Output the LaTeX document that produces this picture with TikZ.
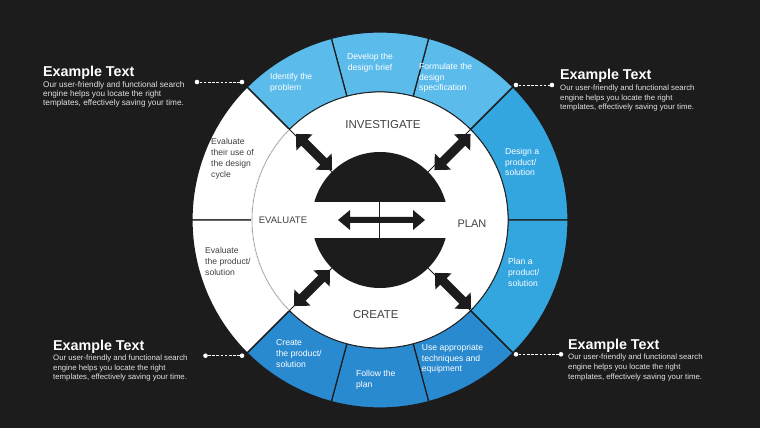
\documentclass[tikz,border=0pt]{standalone}
\usepackage{fontspec}
\setmainfont{Liberation Sans}
\definecolor{bgc}{HTML}{1C1C1C}
\definecolor{blueA}{HTML}{5BBCEC}
\definecolor{blueB}{HTML}{33A6E0}
\definecolor{blueC}{HTML}{2A8AD0}
\definecolor{txtgray}{HTML}{404040}
\definecolor{bodygray}{HTML}{E2E2E2}
\newcommand\ringseg[3]{%
  \filldraw[fill=#3, draw=bgc, line width=1.2pt] (#1:128) -- (#1:188)
    arc[start angle=#1, end angle=#2, radius=188] -- (#2:128)
    arc[start angle=#2, end angle=#1, radius=128] -- cycle;}
\newcommand\myDblArrow[5]{% half-length, head length, head half-width, shaft half-width, colour
  \fill[#5] (-#1,0) -- (-#1+#2,#3) -- (-#1+#2,#4) -- (#1-#2,#4) -- (#1-#2,#3) -- (#1,0)
    -- (#1-#2,-#3) -- (#1-#2,-#4) -- (-#1+#2,-#4) -- (-#1+#2,-#3) -- cycle;}
\tikzset{
  segtxt/.style={inner sep=0, align=left, font=\fontsize{8.6}{10.7}\selectfont},
  segw/.style={segtxt, text=white},
  segg/.style={segtxt, text=txtgray},
  phase/.style={inner sep=0, text=txtgray},
  title/.style={inner sep=0, anchor=base west, text=white, font=\fontsize{14.3}{16}\selectfont\bfseries},
  body/.style={inner sep=0, anchor=base west, align=left, text=bodygray},
  dot/.style={circle, fill=white, minimum size=4.6pt, inner sep=0},
  lead/.style={white, dashed, dash pattern=on 2.6pt off 1.6pt, line width=0.9pt},
  divider/.style={bgc, line width=1pt}
}
\begin{document}
\begin{tikzpicture}[x=1pt,y=1pt]
\fill[bgc] (0,0) rectangle (760,428);
\useasboundingbox (0,0) rectangle (760,428);
\coordinate (C) at (380,208);
\begin{scope}[shift={(380,208)}]
  % ring segments
  \ringseg{45}{75}{blueA}
  \ringseg{75}{105}{blueA}
  \ringseg{105}{135}{blueA}
  \ringseg{0}{45}{blueB}
  \ringseg{-45}{0}{blueB}
  \ringseg{-75}{-45}{blueC}
  \ringseg{-105}{-75}{blueC}
  \ringseg{-135}{-105}{blueC}
  \ringseg{135}{180}{white}
  \ringseg{180}{225}{white}
  % inner white disk
  \filldraw[fill=white, draw=bgc, line width=0.8pt] (0,0) circle (128);
  \draw[white, line width=2pt] (135:128) arc[start angle=135, end angle=225, radius=128];
  \draw[gray!80, line width=0.6pt] (135:128) arc[start angle=135, end angle=225, radius=128];
  % diagonal dividers
  \foreach \a in {45,135,225,315} \draw[divider] (\a:68) -- (\a:188);
  % black disk with white band
  \fill[bgc] (0,0) circle (68);
  \fill[white] (-70,-18) rectangle (70,18);
  \draw[bgc, line width=1pt] (-1,18) -- (-1,-18);
  \begin{scope}[shift={(1.5,0)}]\myDblArrow{43.5}{12}{10}{3}{bgc}\end{scope}
  % diagonal arrows
  \begin{scope}[shift={(-66,68)}, rotate=135]\myDblArrow{25.5}{12}{11.5}{4.5}{bgc}\end{scope}
  \begin{scope}[shift={(72.5,68)}, rotate=45]\myDblArrow{25.5}{12}{11.5}{4.5}{bgc}\end{scope}
  \begin{scope}[shift={(-68,-68)}, rotate=45]\myDblArrow{25.5}{12}{11.5}{4.5}{bgc}\end{scope}
  \begin{scope}[shift={(73,-71)}, rotate=135]\myDblArrow{25.5}{12}{11.5}{4.5}{bgc}\end{scope}
\end{scope}
% phase labels
\node[phase, anchor=base, font=\fontsize{11.5}{13}\selectfont] (inv) at (383,299.7) {INVESTIGATE};
\node[phase, anchor=base, font=\fontsize{9.5}{11}\selectfont] (eva) at (283,204.7) {EVALUATE};
\node[phase, anchor=base, font=\fontsize{11}{13}\selectfont] (pla) at (472,200.7) {PLAN};
\node[phase, anchor=base, font=\fontsize{11.4}{13}\selectfont] (cre) at (375.7,109) {CREATE};
% segment texts (anchor at last line's baseline)
\node[segw, anchor=base west] (s1) at (270,337.3) {Identify the\\problem};
\node[segw, anchor=base, align=center] (s2) at (370,357.3) {Develop the\\design brief};
\node[segw, anchor=base west] (s3) at (419,337.1) {Formulate the\\design\\specification};
\node[segw, anchor=base west] (s4) at (505,252.1) {Design a\\product/\\solution};
\node[segw, anchor=base west] (s5) at (508,141.6) {Plan a\\product/\\solution};
\node[segw, anchor=base west] (s6) at (421.7,56.1) {Use appropriate\\techniques and\\equipment};
\node[segw, anchor=base west] (s7) at (356,40.8) {Follow the\\plan};
\node[segw, anchor=base west] (s8) at (276,60.6) {Create\\the product/\\solution};
\node[segg, anchor=base west] (s9) at (205,152.6) {Evaluate\\the product/\\solution};
\node[segg, anchor=base west] (s10) at (211,250.9) {Evaluate\\their use of\\the design\\cycle};
% callouts
\node[title] (t1) at (43,351.3) {Example Text};
\node[body, font=\fontsize{8.2}{9}\selectfont] (b1) at (43,322.3) {Our user-friendly and functional search\\engine helps you locate the right\\templates, effectively saving your time.};
\node[title] (t2) at (560,348) {Example Text};
\node[body, font=\fontsize{7.8}{9.5}\selectfont] (b2) at (560,318) {Our user-friendly and functional search\\engine helps you locate the right\\templates, effectively saving your time.};
\node[title] (t3) at (53,77) {Example Text};
\node[body, font=\fontsize{7.8}{9.5}\selectfont] (b3) at (53,48) {Our user-friendly and functional search\\engine helps you locate the right\\templates, effectively saving your time.};
\node[title] (t4) at (568,78) {Example Text};
\node[body, font=\fontsize{7.8}{9.6}\selectfont] (b4) at (568,48.8) {Our user-friendly and functional search\\engine helps you locate the right\\templates, effectively saving your time.};
\node[dot] (d1a) at (197,346) {};
\node[dot] (d1b) at (242,346) {};
\node[dot] (d2a) at (516,343) {};
\node[dot] (d2b) at (552,343) {};
\node[dot] (d3a) at (205.5,72.3) {};
\node[dot] (d3b) at (242,72.3) {};
\node[dot] (d4a) at (516,73.7) {};
\node[dot] (d4b) at (561,73.7) {};
\draw[lead] (d1a) -- (d1b);
\draw[lead] (d2a) -- (d2b);
\draw[lead] (d3a) -- (d3b);
\draw[lead] (d4a) -- (d4b);
\end{tikzpicture}
\end{document}
